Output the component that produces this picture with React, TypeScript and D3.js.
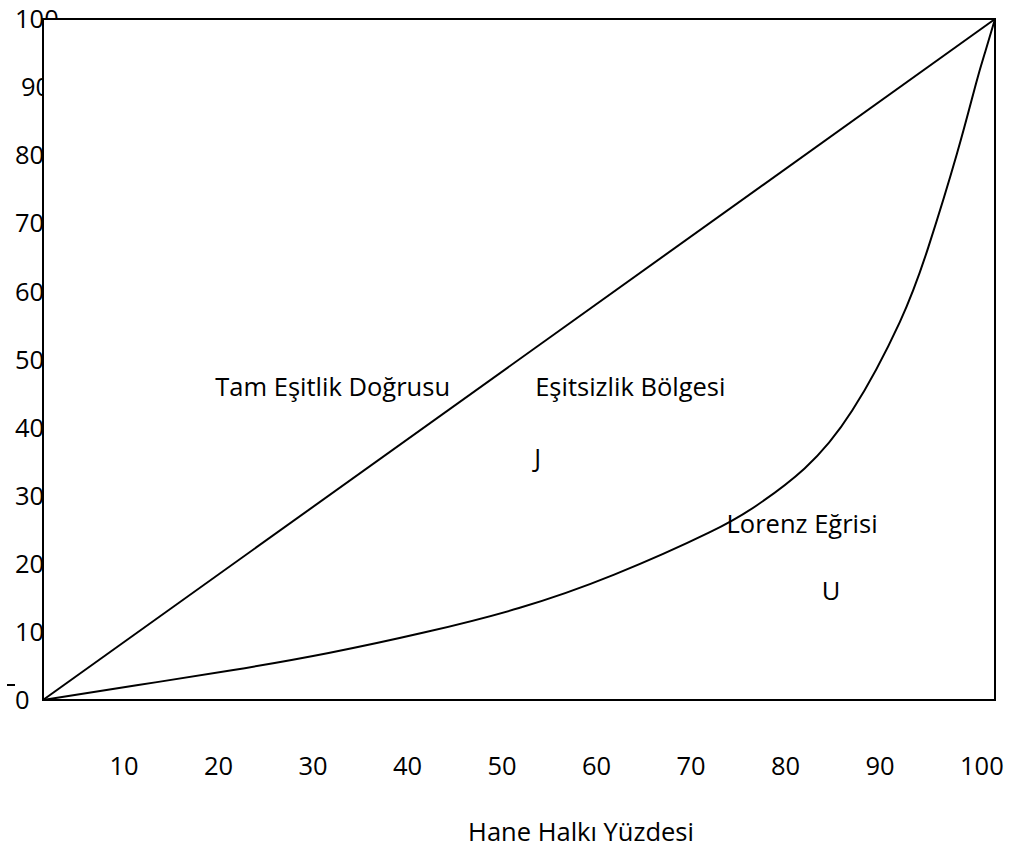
import React from "react";
import * as d3 from "d3";

// percentage of households (x) vs cumulative income share (y)
const equalityLine = [
  { x: 0, y: 0 },
  { x: 100, y: 100 },
];

const lorenzX = [0, 10, 20, 30, 40, 50, 60, 70, 75, 80, 85, 90, 93, 96, 98, 99, 100];
const lorenzY = [0, 2.2, 4.4, 6.9, 9.9, 13.5, 18.4, 24.6, 28.6, 34.0, 42.5, 55.5, 66.5, 80.2, 90.5, 95.3, 100];

const xTicks = [10, 20, 30, 40, 50, 60, 70, 80, 90, 100];
const yTicks = [100, 90, 80, 70, 60, 50, 40, 30, 20, 10, 0];

const notes = [
  { text: "Tam Eşitlik Doğrusu", x: 18.1, y: 44.6 },
  { text: "Eşitsizlik Bölgesi", x: 51.7, y: 44.6 },
  { text: "J", x: 51.6, y: 34.2 },
  { text: "Lorenz Eğrisi", x: 71.8, y: 24.5 },
  { text: "U", x: 81.8, y: 14.7 },
];

const xTitle = "Hane Halkı Yüzdesi";

const W = 1009;
const H = 850;
const box = { left: 43, right: 995, top: 19, bottom: 700 };
const font = "'Open Sans', sans-serif";
const fs = 25.5;

export default function App() {
  const x = d3.scaleLinear().domain([0, 100]).range([box.left, box.right]);
  const y = d3.scaleLinear().domain([0, 100]).range([box.bottom, box.top]);
  // tick labels sit on tab stops, slightly narrower than the frame
  const xLab = d3.scaleLinear().domain([0, 100]).range([15, 960]);

  const line = d3
    .line<{ x: number; y: number }>()
    .x((d) => x(d.x))
    .y((d) => y(d.y));

  const curve = d3
    .line<number>()
    .x((d) => x(d))
    .y((_, i) => y(lorenzY[i]))
    .curve(d3.curveNatural);

  return (
    <svg
      width={W}
      height={H}
      style={{ position: "absolute", left: 0, top: 0, background: "#fff" }}
      fontFamily={font}
      fontSize={fs}
    >
      <rect width={W} height={H} fill="#fff" />

      {/* labels go under the frame, which is filled white and clips them */}
      {yTicks.map((v) => (
        <text key={v} x={15} dx={v === 90 ? 6 : 0} y={y(v)} dy="0.36em" fill="#000">
          {v}
        </text>
      ))}
      <line x1={7} x2={15} y1={685} y2={685} stroke="#000" strokeWidth={2} />

      <rect
        x={box.left}
        y={box.top}
        width={box.right - box.left}
        height={box.bottom - box.top}
        fill="#fff"
        stroke="#000"
        strokeWidth={2}
      />

      <path d={line(equalityLine) ?? ""} fill="none" stroke="#000" strokeWidth={2} />
      <path d={curve(lorenzX) ?? ""} fill="none" stroke="#000" strokeWidth={2} />

      {notes.map((n) => (
        <text key={n.text} x={x(n.x)} y={y(n.y)} fill="#000">
          {n.text}
        </text>
      ))}

      {xTicks.map((v) => (
        <text key={v} x={xLab(v)} y={775} fill="#000">
          {v}
        </text>
      ))}

      <text x={581} y={841} textAnchor="middle" fill="#000">
        {xTitle}
      </text>
    </svg>
  );
}
